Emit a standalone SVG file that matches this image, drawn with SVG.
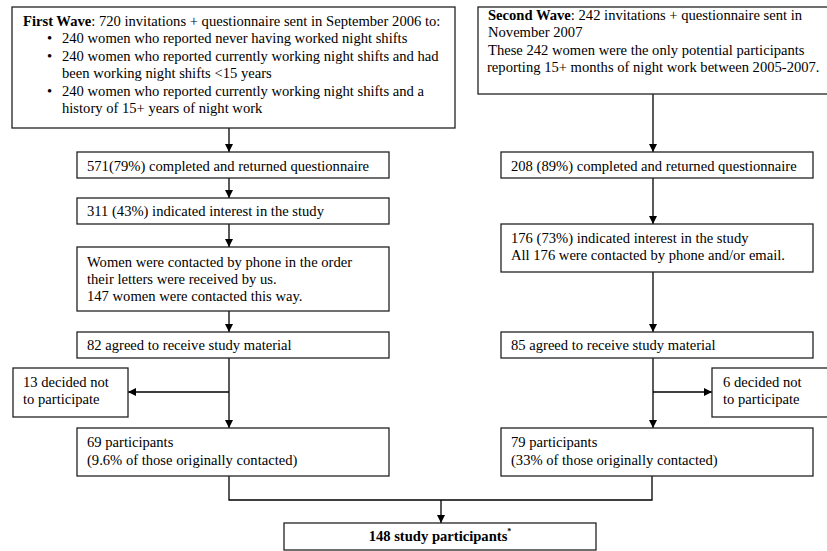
<svg xmlns="http://www.w3.org/2000/svg" width="827" height="551" viewBox="0 0 827 551">
<style>
.box{fill:#fff;stroke:#222;stroke-width:1.3}
.ln{fill:none;stroke:#000;stroke-width:1.3}
</style>
<defs>
<marker id="ah" viewBox="0 0 10 10" refX="10" refY="5" markerWidth="8" markerHeight="8" markerUnits="userSpaceOnUse" orient="auto">
<path d="M0,0 L10,5 L0,10 z" fill="#000"/>
</marker>
</defs>
<rect width="827" height="551" fill="#fff"/>
<g id="connectors">
<line class="ln" x1="229" y1="128" x2="229" y2="152" marker-end="url(#ah)"/>
<line class="ln" x1="229" y1="178" x2="229" y2="198" marker-end="url(#ah)"/>
<line class="ln" x1="229" y1="224" x2="229" y2="247" marker-end="url(#ah)"/>
<line class="ln" x1="229" y1="311" x2="229" y2="332" marker-end="url(#ah)"/>
<line class="ln" x1="229" y1="358" x2="229" y2="428" marker-end="url(#ah)"/>
<line class="ln" x1="229" y1="392" x2="128" y2="392" marker-end="url(#ah)"/>
<line class="ln" x1="653" y1="94" x2="653" y2="152" marker-end="url(#ah)"/>
<line class="ln" x1="653" y1="178" x2="653" y2="224" marker-end="url(#ah)"/>
<line class="ln" x1="653" y1="272" x2="653" y2="332" marker-end="url(#ah)"/>
<line class="ln" x1="653" y1="358" x2="653" y2="428" marker-end="url(#ah)"/>
<line class="ln" x1="653" y1="392" x2="712" y2="392" marker-end="url(#ah)"/>
<polyline class="ln" points="229,476 229,500 652,500 652,476"/>
<line class="ln" x1="441" y1="500" x2="441" y2="523" marker-end="url(#ah)"/>
</g>
<g id="wave1">
<rect class="box" x="12" y="7" width="443" height="121"/>
<text font-family="Liberation Serif" font-size="14.6" x="23" y="26"><tspan font-weight="bold">First Wave</tspan>: 720 invitations + questionnaire sent in September 2006 to:</text>
<text font-family="Liberation Serif" font-size="14.6" x="47" y="43">•</text>
<text font-family="Liberation Serif" font-size="14.6" x="62" y="43">240 women who reported never having worked night shifts</text>
<text font-family="Liberation Serif" font-size="14.6" x="47" y="61">•</text>
<text font-family="Liberation Serif" font-size="14.6" x="62" y="61">240 women who reported currently working night shifts and had</text>
<text font-family="Liberation Serif" font-size="14.6" x="62" y="78">been working night shifts &lt;15 years</text>
<text font-family="Liberation Serif" font-size="14.6" x="47" y="96">•</text>
<text font-family="Liberation Serif" font-size="14.6" x="62" y="96">240 women who reported currently working night shifts and a</text>
<text font-family="Liberation Serif" font-size="14.6" x="62" y="113">history of 15+ years of night work</text>
</g>
<g id="wave2">
<rect class="box" x="478" y="7" width="355" height="87"/>
<text font-family="Liberation Serif" font-size="14.6" x="488" y="20"><tspan font-weight="bold">Second Wave</tspan>: 242 invitations + questionnaire sent in</text>
<text font-family="Liberation Serif" font-size="14.6" x="488" y="37">November 2007</text>
<text font-family="Liberation Serif" font-size="14.6" x="488" y="55">These 242 women were the only potential participants</text>
<text font-family="Liberation Serif" font-size="14.6" x="487" y="72">reporting 15+ months of night work between 2005-2007.</text>
</g>
<g id="returned1">
<rect class="box" x="77" y="152" width="312" height="26"/>
<text font-family="Liberation Serif" font-size="14.6" x="87" y="171">571(79%) completed and returned questionnaire</text>
</g>
<g id="interest1">
<rect class="box" x="77" y="198" width="312" height="26"/>
<text font-family="Liberation Serif" font-size="14.6" x="87" y="216">311 (43%) indicated interest in the study</text>
</g>
<g id="contacted1">
<rect class="box" x="77" y="247" width="312" height="64"/>
<text font-family="Liberation Serif" font-size="14.6" x="87" y="267">Women were contacted by phone in the order</text>
<text font-family="Liberation Serif" font-size="14.6" x="87" y="284">their letters were received by us.</text>
<text font-family="Liberation Serif" font-size="14.6" x="87" y="301">147 women were contacted this way.</text>
</g>
<g id="agreed1">
<rect class="box" x="77" y="332" width="312" height="26"/>
<text font-family="Liberation Serif" font-size="14.6" x="87" y="350">82 agreed to receive study material</text>
</g>
<g id="declined1">
<rect class="box" x="13" y="368" width="115" height="49"/>
<text font-family="Liberation Serif" font-size="14.6" x="23" y="387">13 decided not</text>
<text font-family="Liberation Serif" font-size="14.6" x="23" y="404">to participate</text>
</g>
<g id="participants1">
<rect class="box" x="77" y="428" width="312" height="48"/>
<text font-family="Liberation Serif" font-size="14.6" x="87" y="447">69 participants</text>
<text font-family="Liberation Serif" font-size="14.6" x="87" y="465">(9.6% of those originally contacted)</text>
</g>
<g id="returned2">
<rect class="box" x="501" y="152" width="312" height="26"/>
<text font-family="Liberation Serif" font-size="14.6" x="511" y="171">208 (89%) completed and returned questionnaire</text>
</g>
<g id="interest2">
<rect class="box" x="501" y="224" width="312" height="48"/>
<text font-family="Liberation Serif" font-size="14.6" x="511" y="243">176 (73%) indicated interest in the study</text>
<text font-family="Liberation Serif" font-size="14.6" x="511" y="260">All 176 were contacted by phone and/or email.</text>
</g>
<g id="agreed2">
<rect class="box" x="501" y="332" width="312" height="26"/>
<text font-family="Liberation Serif" font-size="14.6" x="511" y="350">85 agreed to receive study material</text>
</g>
<g id="declined2">
<rect class="box" x="712" y="368" width="125" height="49"/>
<text font-family="Liberation Serif" font-size="14.6" x="723" y="387">6 decided not</text>
<text font-family="Liberation Serif" font-size="14.6" x="723" y="404">to participate</text>
</g>
<g id="participants2">
<rect class="box" x="501" y="428" width="312" height="48"/>
<text font-family="Liberation Serif" font-size="14.6" x="511" y="447">79 participants</text>
<text font-family="Liberation Serif" font-size="14.6" x="511" y="465">(33% of those originally contacted)</text>
</g>
<g id="total">
<rect class="box" x="284" y="523" width="312" height="27"/>
<text font-family="Liberation Serif" font-size="14.6" font-weight="bold" x="440" y="541" text-anchor="middle">148 study participants<tspan font-size="8" dy="-7">*</tspan></text>
</g>
</svg>
